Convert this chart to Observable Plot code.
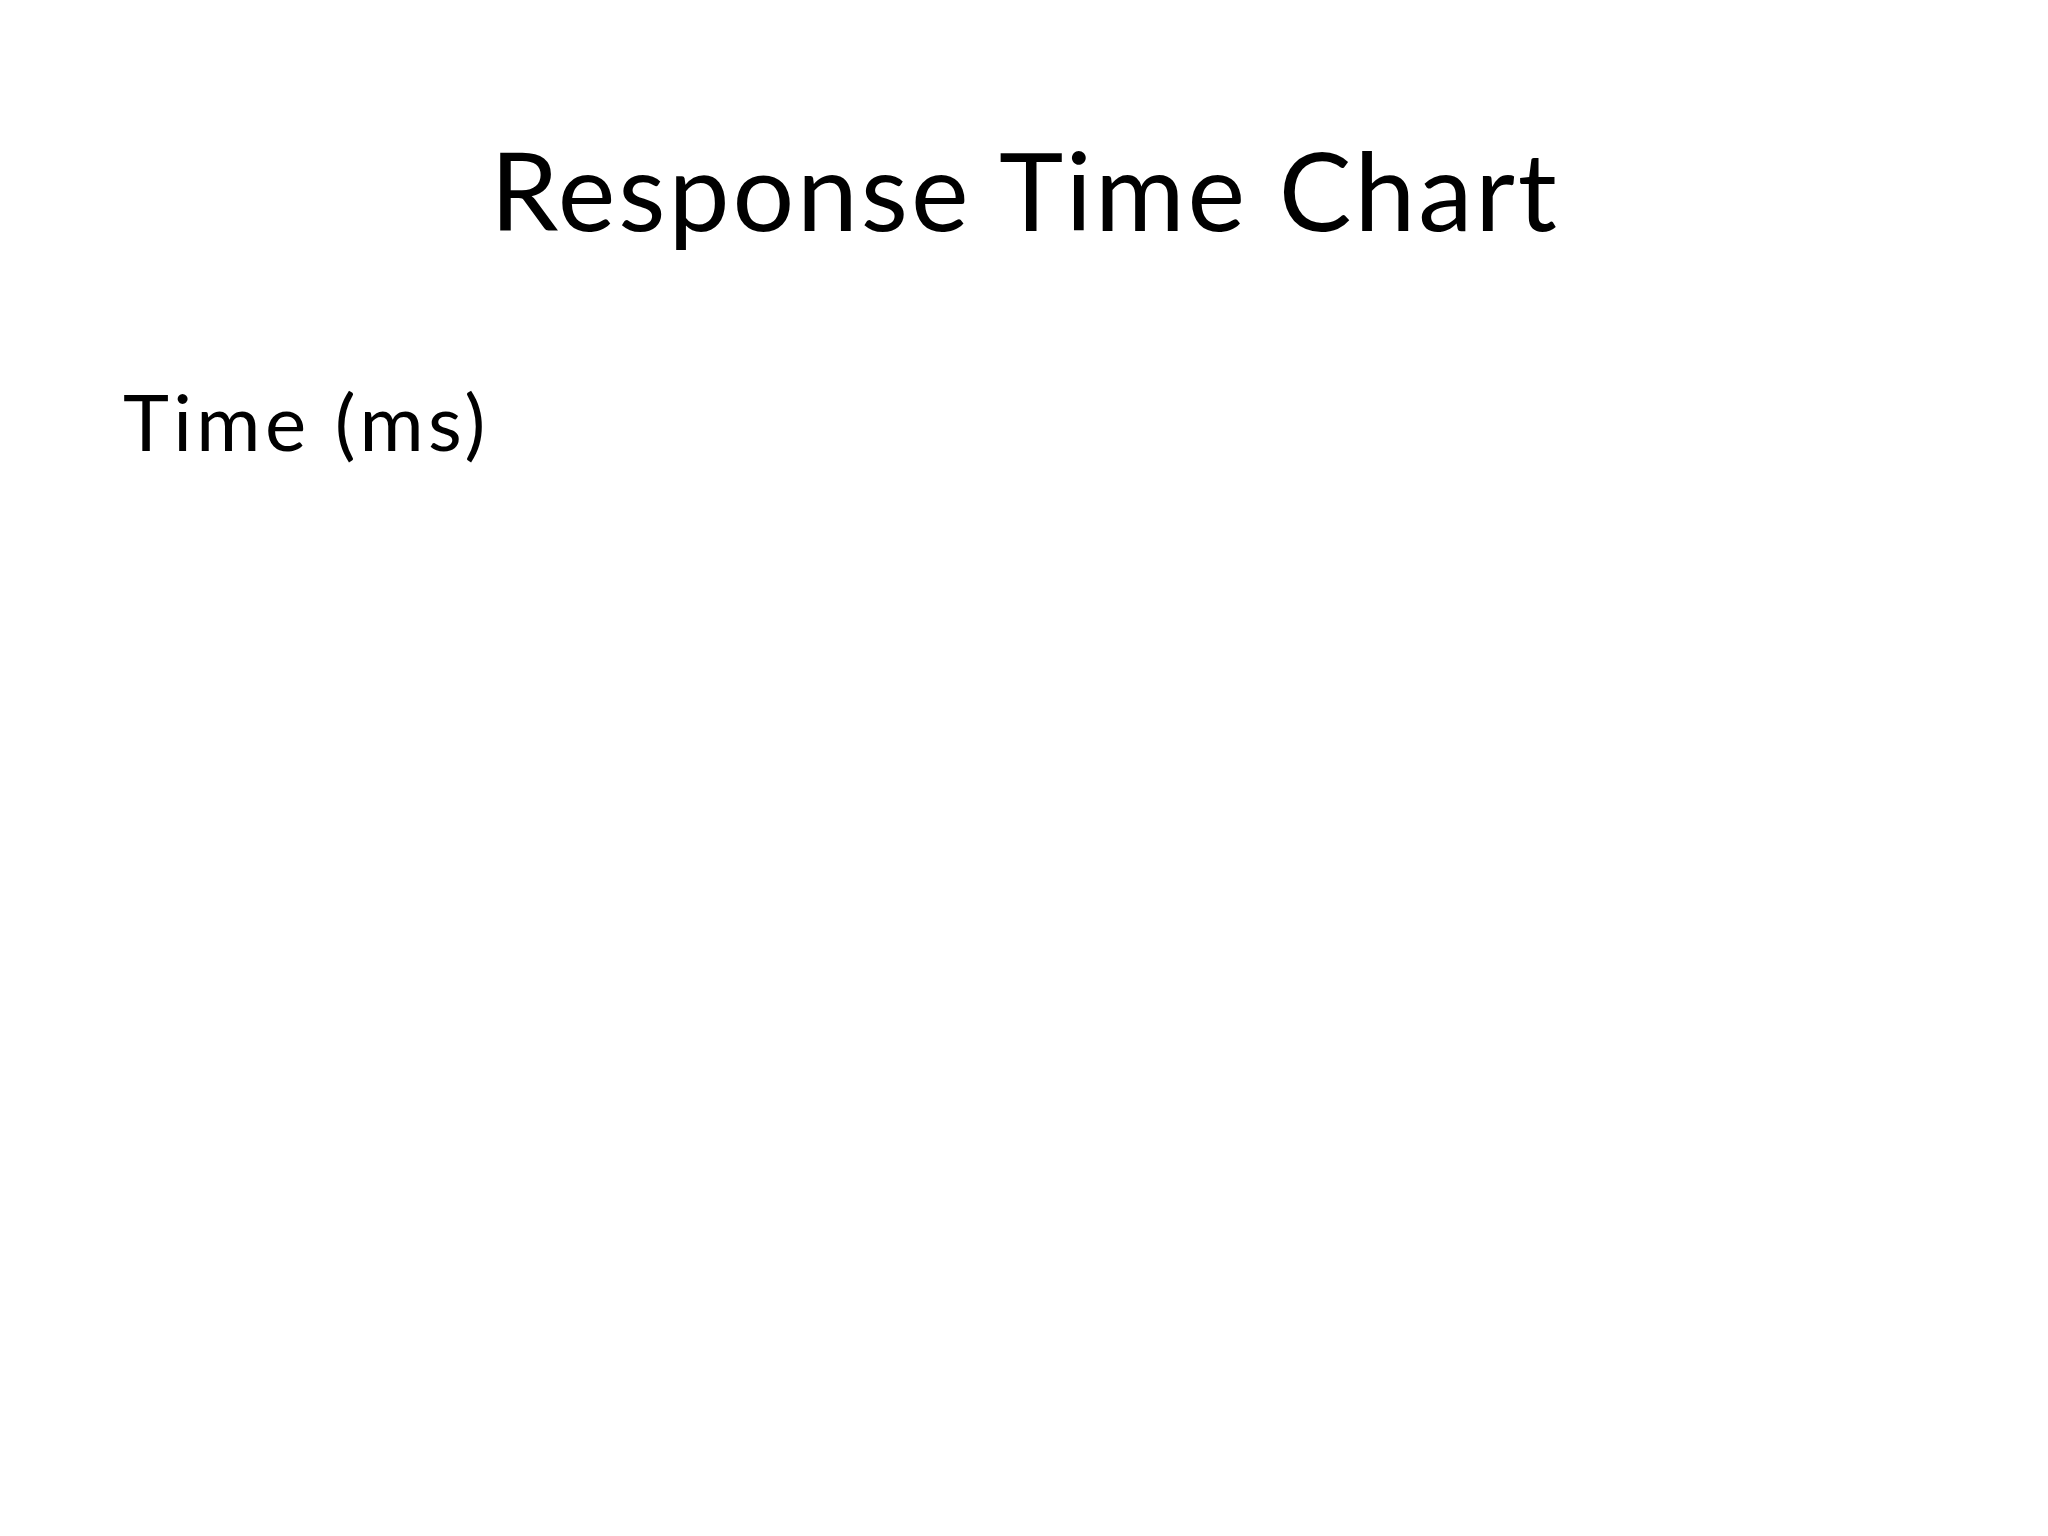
<!DOCTYPE html>
<html>
<head>
<meta charset="utf-8">
<script src="https://cdn.jsdelivr.net/npm/d3@7"></script>
<script src="https://cdn.jsdelivr.net/npm/@observablehq/plot@0.6"></script>
<style>
  html, body { margin: 0; padding: 0; background: #ffffff; }
  body { width: 2048px; height: 1536px; position: relative; overflow: hidden; font-family: Lato, "Open Sans", sans-serif; color: #000; }
  #title { position: absolute; left: 1px; top: 134px; width: 2048px; text-align: center; font-size: 109px; line-height: 1; white-space: nowrap; letter-spacing: 2.9px; }
  #ylabel { position: absolute; left: 123px; top: 382px; font-size: 78px; line-height: 1; white-space: nowrap; letter-spacing: 4.4px; }
  #chart { position: absolute; left: 0; top: 520px; }
</style>
</head>
<body>
<div id="title"></div>
<div id="ylabel"></div>
<div id="chart"></div>
<script>
// Chart text
const titleText = "Response Time Chart";
const yLabelText = "Time (ms)";
// The reference slide shows no data: categories and values are empty.
const categories = [];
const responseTimes = [];

document.getElementById("title").textContent = titleText;
document.getElementById("ylabel").textContent = yLabelText;

const data = categories.map((c, i) => ({category: c, value: responseTimes[i]}));

const chart = Plot.plot({
  width: 2048,
  height: 1000,
  style: {background: "transparent"},
  x: {axis: null},
  y: {axis: null},
  marks: [
    Plot.barY(data, {x: "category", y: "value", fill: "#4472c4"})
  ]
});
document.getElementById("chart").appendChild(chart);
</script>
</body>
</html>
